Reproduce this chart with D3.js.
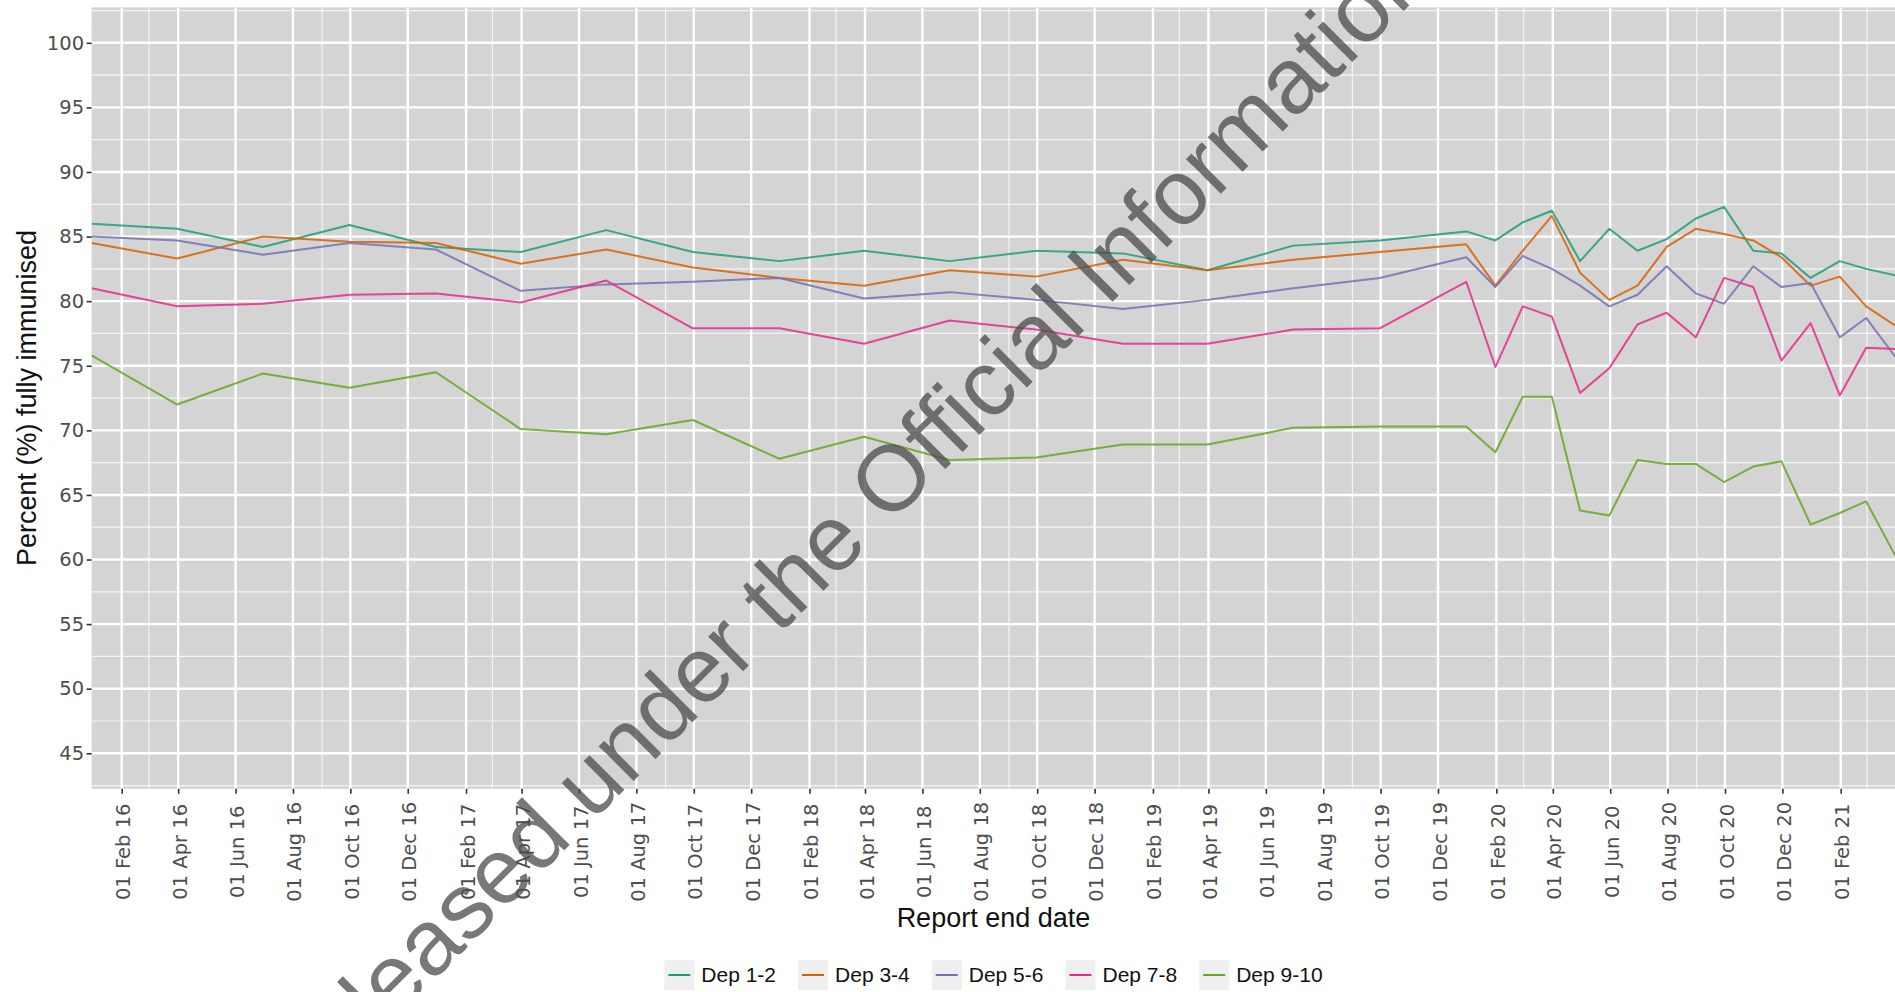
<!DOCTYPE html>
<html>
<head>
<meta charset="utf-8">
<script src="https://cdn.jsdelivr.net/npm/d3@7"></script>
<style>
  html, body { margin: 0; padding: 0; background: #ffffff; }
  svg { display: block; }
</style>
</head>
<body>
<svg id="chart" width="1895" height="992"></svg>
<script>
// ---------------- DATA ----------------
const reportDates = [
  "2015-12-31","2016-03-31","2016-06-30","2016-09-30","2016-12-31",
  "2017-03-31","2017-06-30","2017-09-30","2017-12-31","2018-03-31",
  "2018-06-30","2018-09-30","2018-12-31","2019-03-31","2019-06-30",
  "2019-09-30","2019-12-31","2020-01-31","2020-02-29","2020-03-31",
  "2020-04-30","2020-05-31","2020-06-30","2020-07-31","2020-08-31",
  "2020-09-30","2020-10-31","2020-11-30","2020-12-31","2021-01-31",
  "2021-02-28","2021-03-31"
];
const dep12 = [86.0,85.6,84.2,85.9,84.2,83.8,85.5,83.8,83.1,83.9,83.1,83.9,83.7,82.4,84.3,84.7,85.4,84.7,86.1,87.0,83.1,85.6,83.9,84.8,86.4,87.3,83.9,83.7,81.8,83.1,82.5,82.0];
const dep34 = [84.5,83.3,85.0,84.6,84.5,82.9,84.0,82.6,81.8,81.2,82.4,81.9,83.2,82.4,83.2,83.8,84.4,81.2,83.9,86.6,82.2,80.1,81.2,84.2,85.6,85.2,84.7,83.4,81.2,81.9,79.6,78.1];
const dep56 = [85.0,84.7,83.6,84.5,84.0,80.8,81.3,81.5,81.8,80.2,80.7,80.1,79.4,80.1,81.0,81.8,83.4,81.1,83.5,82.5,81.2,79.6,80.5,82.7,80.6,79.8,82.7,81.1,81.4,77.2,78.7,75.7];
const dep78 = [81.0,79.6,79.8,80.5,80.6,79.9,81.6,77.9,77.9,76.7,78.5,77.8,76.7,76.7,77.8,77.9,81.5,74.9,79.6,78.8,72.9,74.8,78.2,79.1,77.2,81.8,81.1,75.4,78.3,72.7,76.4,76.3];
const dep910 = [75.8,72.0,74.4,73.3,74.5,70.1,69.7,70.8,67.8,69.5,67.7,67.9,68.9,68.9,70.2,70.3,70.3,68.3,72.6,72.6,63.8,63.4,67.7,67.4,67.4,66.0,67.2,67.6,62.7,63.6,64.5,60.3];

const seriesNames = ["Dep 1-2","Dep 3-4","Dep 5-6","Dep 7-8","Dep 9-10"];
const seriesValues = [dep12, dep34, dep56, dep78, dep910];
const seriesColors = ["#1b9e77","#d95f02","#7570b3","#e7298a","#66a61e"];

const xTickLabels = [
  "01 Feb 16","01 Apr 16","01 Jun 16","01 Aug 16","01 Oct 16","01 Dec 16",
  "01 Feb 17","01 Apr 17","01 Jun 17","01 Aug 17","01 Oct 17","01 Dec 17",
  "01 Feb 18","01 Apr 18","01 Jun 18","01 Aug 18","01 Oct 18","01 Dec 18",
  "01 Feb 19","01 Apr 19","01 Jun 19","01 Aug 19","01 Oct 19","01 Dec 19",
  "01 Feb 20","01 Apr 20","01 Jun 20","01 Aug 20","01 Oct 20","01 Dec 20",
  "01 Feb 21"
];
const xMinorDates = [
  "2016-03-01","2016-09-01","2017-03-01","2017-09-01","2018-03-01","2018-09-01",
  "2019-03-01","2019-09-01","2020-03-01","2020-09-01","2021-03-01"
];
const yTicks = [45,50,55,60,65,70,75,80,85,90,95,100];
const yMinor = [42.5,47.5,52.5,57.5,62.5,67.5,72.5,77.5,82.5,87.5,92.5,97.5,102.5];
const yLimits = [45, 100];

const xTitle = "Report end date";
const yTitle = "Percent (%) fully immunised";
const watermark = "Released under the Official Information Act";

// ---------------- LAYOUT ----------------
const panel = { left: 91.6, right: 1895.3, top: 7.3, bottom: 788.8 };
const parseDate = d3.utcParse("%Y-%m-%d");
const parseTick = d3.utcParse("%d %b %y");
const fmtTick = d3.utcFormat("%d %b %y");

const dates = reportDates.map(parseDate);
const yExpand = (yLimits[1] - yLimits[0]) * 0.05;

const x = d3.scaleUtc()
  .domain(d3.extent(dates))
  .range([panel.left, panel.right]);
const y = d3.scaleLinear()
  .domain([yLimits[0] - yExpand, yLimits[1] + yExpand])
  .range([panel.bottom, panel.top]);

const svg = d3.select("#chart");
const tickFont = "'DejaVu Sans', sans-serif";
const titleFont = "'Liberation Sans', Arial, sans-serif";

svg.append("defs").append("clipPath").attr("id", "panelClip")
  .append("rect")
  .attr("x", panel.left).attr("y", panel.top)
  .attr("width", panel.right - panel.left).attr("height", panel.bottom - panel.top);

svg.append("rect")
  .attr("x", panel.left).attr("y", panel.top)
  .attr("width", panel.right - panel.left).attr("height", panel.bottom - panel.top)
  .attr("fill", "#d4d4d4");

const grid = svg.append("g").attr("clip-path", "url(#panelClip)");
grid.selectAll("line.ymin").data(yMinor).join("line")
  .attr("x1", panel.left).attr("x2", panel.right)
  .attr("y1", d => y(d)).attr("y2", d => y(d))
  .attr("stroke", "#f4f4f4").attr("stroke-width", 1.2);
grid.selectAll("line.xmin").data(xMinorDates.map(parseDate)).join("line")
  .attr("y1", panel.top).attr("y2", panel.bottom)
  .attr("x1", d => x(d)).attr("x2", d => x(d))
  .attr("stroke", "#f4f4f4").attr("stroke-width", 1.2);
grid.selectAll("line.ymaj").data(yTicks).join("line")
  .attr("x1", panel.left).attr("x2", panel.right)
  .attr("y1", d => y(d)).attr("y2", d => y(d))
  .attr("stroke", "#ffffff").attr("stroke-width", 2.4);
grid.selectAll("line.xmaj").data(xTickLabels.map(parseTick)).join("line")
  .attr("y1", panel.top).attr("y2", panel.bottom)
  .attr("x1", d => x(d)).attr("x2", d => x(d))
  .attr("stroke", "#ffffff").attr("stroke-width", 2.4);

const line = d3.line()
  .x((d, i) => x(dates[i]))
  .y(d => y(d));
const lines = svg.append("g").attr("clip-path", "url(#panelClip)");
seriesValues.forEach((vals, k) => {
  lines.append("path")
    .datum(vals)
    .attr("d", line)
    .attr("fill", "none")
    .attr("stroke", seriesColors[k])
    .attr("stroke-width", 2)
    .attr("stroke-opacity", 0.85)
    .attr("stroke-linejoin", "round");
});

const yAxis = svg.append("g")
  .attr("transform", `translate(${panel.left},0)`)
  .call(d3.axisLeft(y).tickValues(yTicks).tickSize(5).tickPadding(2.5));
yAxis.select(".domain").remove();
yAxis.selectAll(".tick line").attr("stroke", "#333333").attr("stroke-width", 1.6);
yAxis.selectAll(".tick text")
  .attr("fill", "#4d4d4d")
  .style("font-family", tickFont)
  .style("font-size", "19.5px");

const xAxis = svg.append("g")
  .attr("transform", `translate(0,${panel.bottom})`)
  .call(d3.axisBottom(x).tickValues(xTickLabels.map(parseTick)).tickFormat(fmtTick).tickSize(5));
xAxis.select(".domain").remove();
xAxis.selectAll(".tick line").attr("stroke", "#333333").attr("stroke-width", 1.6);
xAxis.selectAll(".tick text")
  .attr("fill", "#4d4d4d")
  .attr("x", 0).attr("y", 0).attr("dy", "0.36em")
  .attr("text-anchor", "middle")
  .attr("transform", "translate(1,63) rotate(-90)")
  .style("font-family", tickFont)
  .style("font-size", "19.5px");

svg.append("text")
  .attr("x", (panel.left + panel.right) / 2).attr("y", 927)
  .attr("text-anchor", "middle")
  .attr("fill", "#111")
  .style("font-family", titleFont)
  .style("font-size", "27px")
  .text(xTitle);
svg.append("text")
  .attr("transform", `translate(36,${(panel.top + panel.bottom) / 2}) rotate(-90)`)
  .attr("text-anchor", "middle")
  .attr("fill", "#111")
  .style("font-family", titleFont)
  .style("font-size", "27px")
  .text(yTitle);

// legend
const legend = svg.append("g");
const keyW = 30, keyH = 30, keyGap = 7, itemGap = 22;
let cursor = 0;
seriesNames.forEach((name, k) => {
  const g = legend.append("g");
  g.append("rect")
    .attr("x", 0).attr("y", -keyH / 2)
    .attr("width", keyW).attr("height", keyH)
    .attr("fill", "#efefef");
  g.append("line")
    .attr("x1", 4).attr("x2", keyW - 4)
    .attr("y1", 0).attr("y2", 0)
    .attr("stroke", seriesColors[k]).attr("stroke-width", 2);
  const t = g.append("text")
    .attr("x", keyW + keyGap).attr("y", 0).attr("dy", "0.35em")
    .attr("fill", "#111")
    .style("font-family", titleFont)
    .style("font-size", "21px")
    .text(name);
  const w = t.node().getComputedTextLength();
  g.attr("transform", `translate(${cursor},0)`);
  cursor += keyW + keyGap + w + itemGap;
});
const totalW = cursor - itemGap;
legend.attr("transform", `translate(${(panel.left + panel.right) / 2 - totalW / 2},975)`);

// watermark
svg.append("text")
  .attr("transform", "translate(897,470) rotate(-45)")
  .attr("text-anchor", "middle")
  .attr("dy", "0.36em")
  .attr("fill", "rgb(75,75,75)")
  .attr("fill-opacity", 0.75)
  .style("font-family", titleFont)
  .style("font-size", "93px")
  .text(watermark);
</script>
</body>
</html>
